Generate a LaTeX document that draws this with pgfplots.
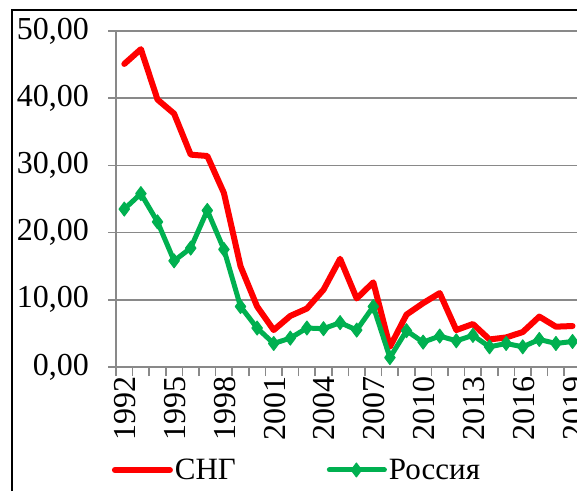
\documentclass[border=0pt]{standalone}
\usepackage{pgfplots}
\pgfplotsset{compat=1.18}
\usepackage{fontspec}
\setmainfont{Liberation Serif}
\definecolor{cisred}{HTML}{FF0000}
\definecolor{rugreen}{HTML}{00B050}
\definecolor{gridgray}{HTML}{898989}
\pgfplotstableread{
x year cis rus
0 1992 45.1 23.5
1 1993 47.3 25.8
2 1994 39.8 21.6
3 1995 37.7 15.8
4 1996 31.6 17.7
5 1997 31.4 23.3
6 1998 25.9 17.5
7 1999 15.0 9.0
8 2000 9.0 5.8
9 2001 5.5 3.5
10 2002 7.6 4.3
11 2003 8.7 5.8
12 2004 11.5 5.7
13 2005 16.1 6.6
14 2006 10.2 5.5
15 2007 12.6 9.0
16 2008 3.0 1.4
17 2009 7.8 5.4
18 2010 9.5 3.7
19 2011 11.0 4.6
20 2012 5.5 3.9
21 2013 6.4 4.7
22 2014 4.1 3.0
23 2015 4.4 3.5
24 2016 5.2 3.0
25 2017 7.5 4.1
26 2018 6.0 3.5
27 2019 6.1 3.8
}\datatable
\begin{document}
\begin{tikzpicture}
\useasboundingbox (0,0) rectangle (577pt,491pt);
\draw[black, line width=1.3pt] (12pt,0pt) -- (12pt,481pt) -- (577pt,481pt);
\begin{axis}[
  at={(116pt,124pt)}, anchor=south west,
  scale only axis, width=461pt, height=336pt,
  xmin=-0.5, xmax=27.27, ymin=0, ymax=50,
  axis x line*=bottom, axis y line*=left,
  axis line style={gridgray, line width=1.7pt, -},
  ytick={0,10,...,50},
  ymajorgrids, grid style={gridgray, line width=1.7pt},
  xtick={0,3,...,27},
  xticklabels={1992,1995,1998,2001,2004,2007,2010,2013,2016,2019},
  major x tick style={draw=none},
  minor xtick={-0.5,0.5,...,26.5},
  minor tick length=9pt,
  major tick length=8pt,
  tick align=outside,
  tick style={gridgray, line width=1.7pt},
  /pgf/number format/assume math mode=true,
  yticklabel style={/pgf/number format/fixed, /pgf/number format/fixed zerofill, /pgf/number format/precision=2, /pgf/number format/use comma},
  ticklabel style={font=\fontsize{32}{36}\selectfont},
  xticklabel style={rotate=90, anchor=east, inner sep=0pt, xshift=-1pt, yshift=-1pt},
  yticklabel style={anchor=east, inner sep=0pt, xshift=-19pt},
  legend columns=2,
  legend style={at={(-0.0093,-0.3065)}, anchor=west, draw=none, fill=none, inner sep=0pt,
    font=\fontsize{31}{36}\selectfont,
    /tikz/every even column/.append style={column sep=89pt},
    cells={anchor=west}},
  legend cell align=left,
  legend image code/.code={
    \draw[mark repeat=2, mark phase=2, #1] plot coordinates {(0pt,0pt) (27pt,0pt) (55pt,0pt)};
  },
]
\addplot[cisred, line width=6pt, line join=round, line cap=round] table[x=x, y=cis] {\datatable};
\addlegendentry{СНГ}
\addplot[rugreen, line width=5pt, line join=round, line cap=round, mark=diamond*, mark size=7pt,
  mark options={solid, line width=1pt, fill=rugreen}] table[x=x, y=rus] {\datatable};
\addlegendentry{Россия}
\end{axis}
\end{tikzpicture}
\end{document}
